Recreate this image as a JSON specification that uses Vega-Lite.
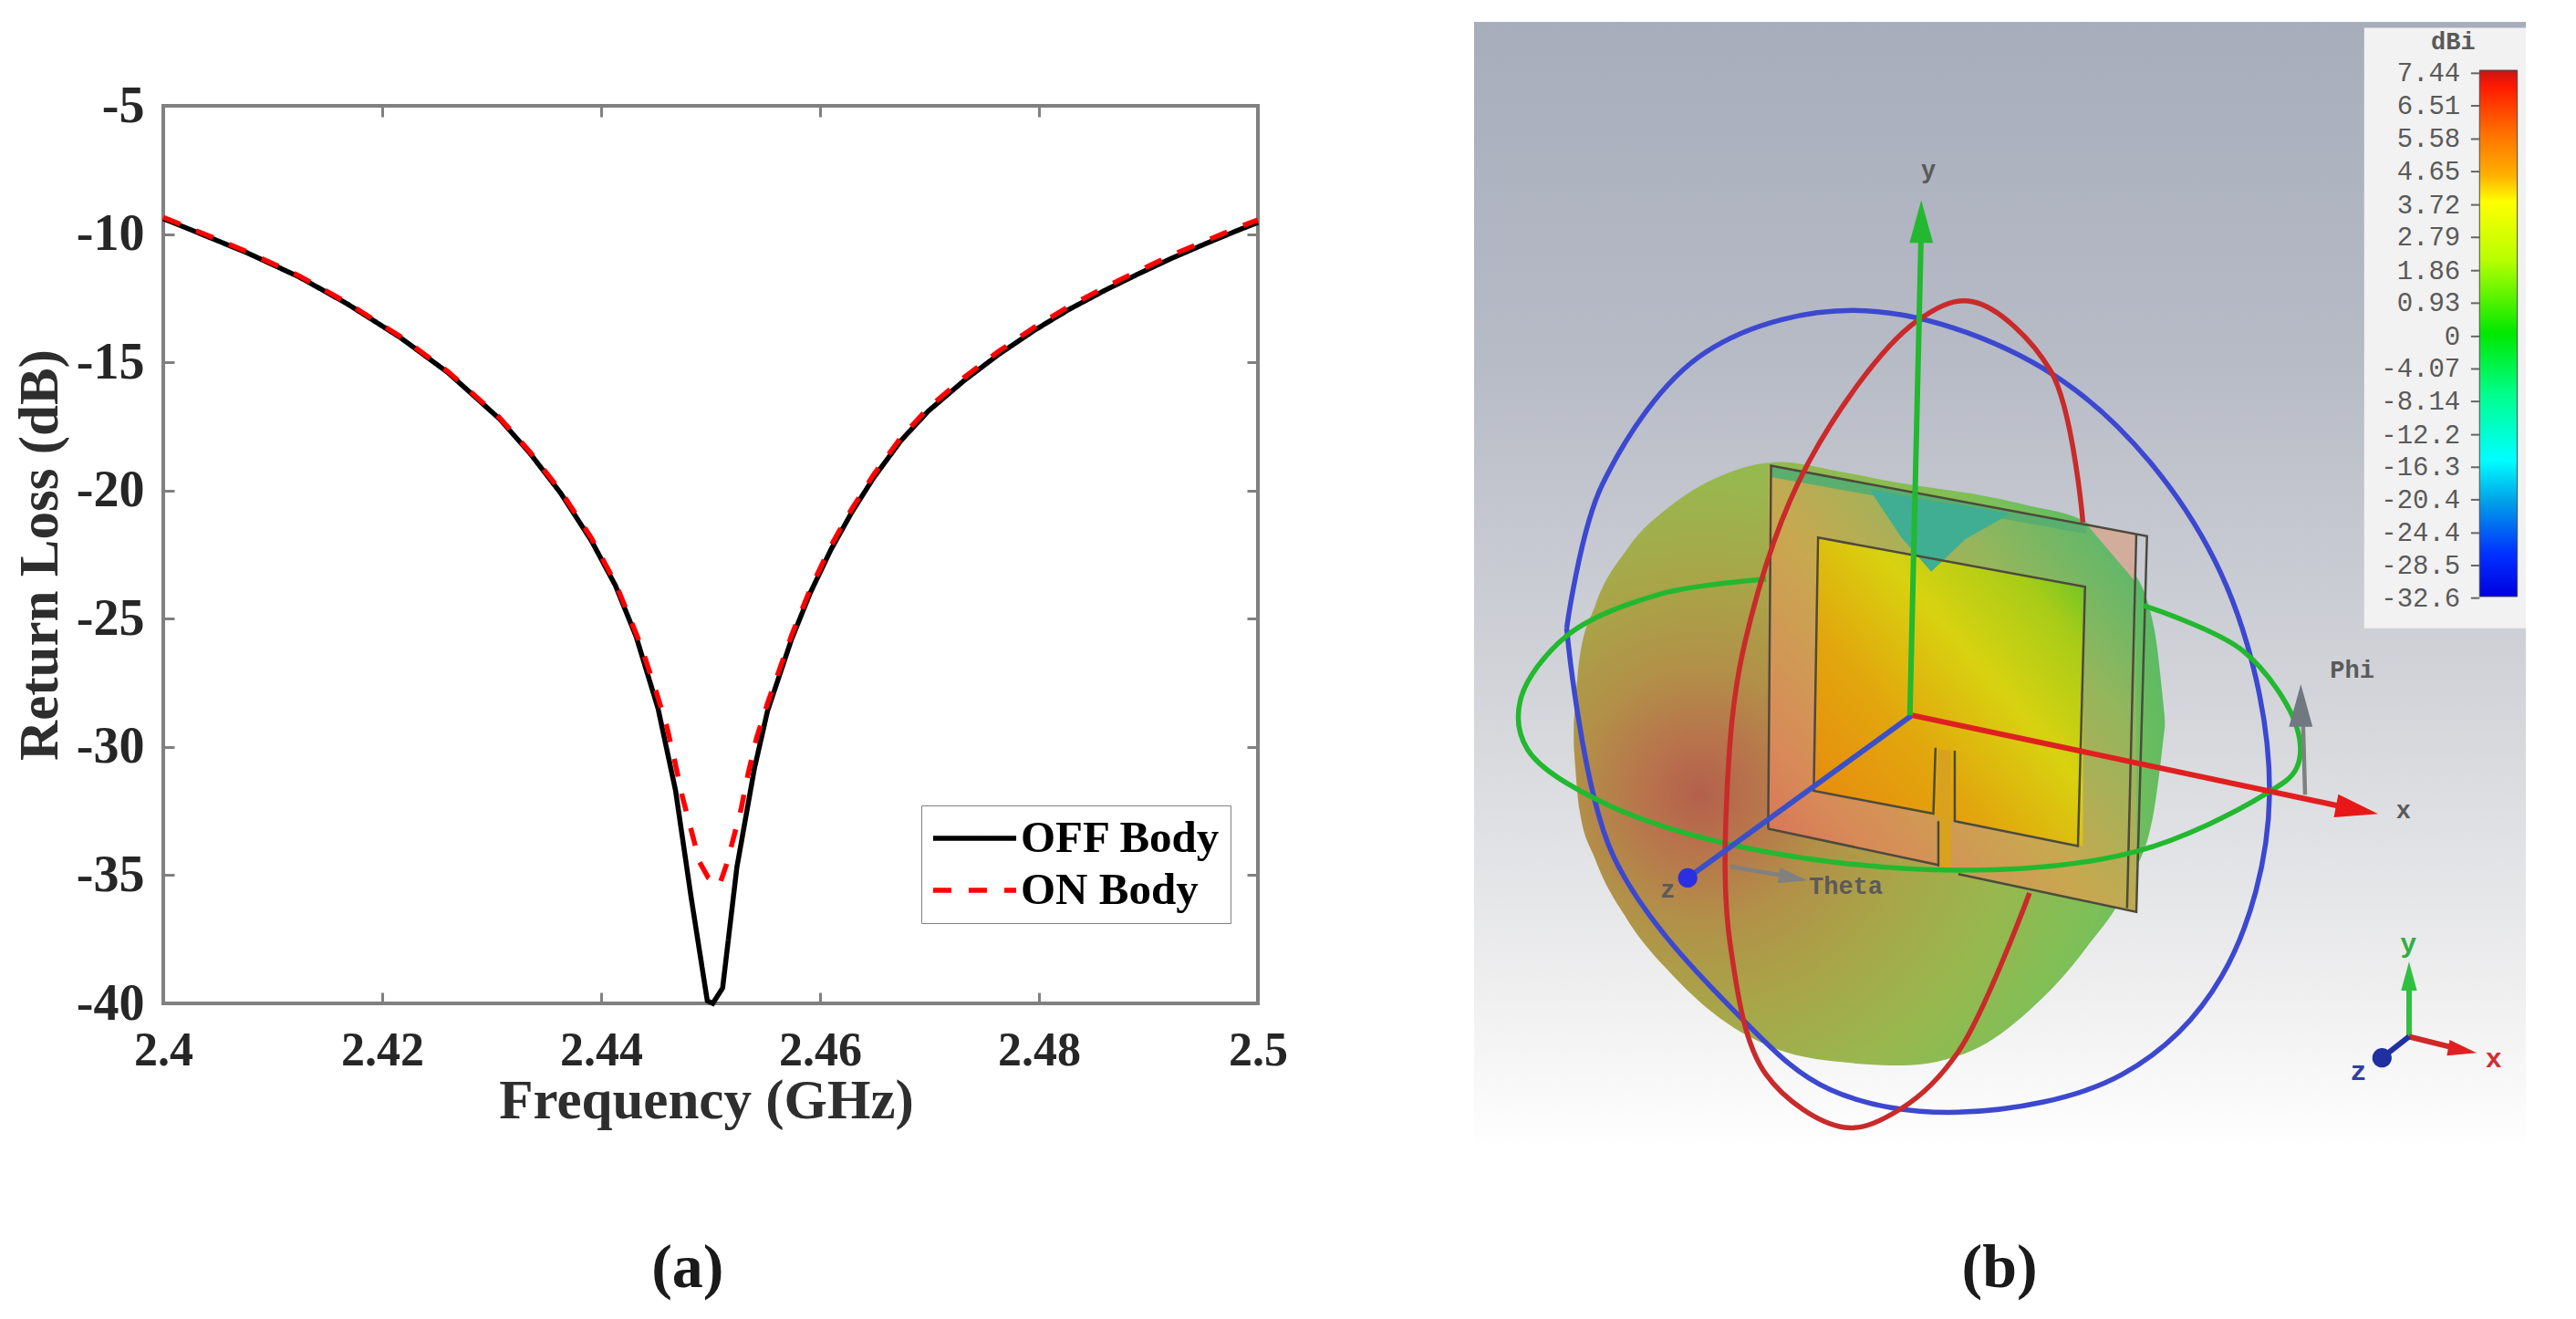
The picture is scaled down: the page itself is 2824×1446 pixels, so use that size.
{
"$schema":"https://vega.github.io/schema/vega-lite/v6.json",
"background":"white",
"padding":{"left":11,"top":23,"right":0,"bottom":0},
"bounds":"flush",
"spacing":237,
"resolve":{"scale":{"color":"independent","strokeDash":"independent","x":"independent","y":"independent"}},
"config":{"view":{"stroke":"#808080","strokeWidth":4},"text":{"font":"Liberation Serif"}},
"datasets":{
"curves":[
{"f":2.40,"rl":-9.4,"s":"OFF Body"},{"f":2.4029,"rl":-9.9,"s":"OFF Body"},{"f":2.4077,"rl":-10.74,"s":"OFF Body"},{"f":2.4124,"rl":-11.67,"s":"OFF Body"},{"f":2.4168,"rl":-12.72,"s":"OFF Body"},{"f":2.4216,"rl":-14.02,"s":"OFF Body"},{"f":2.426,"rl":-15.4,"s":"OFF Body"},{"f":2.4307,"rl":-17.2,"s":"OFF Body"},{"f":2.4335,"rl":-18.55,"s":"OFF Body"},{"f":2.4363,"rl":-20.1,"s":"OFF Body"},{"f":2.4391,"rl":-21.95,"s":"OFF Body"},{"f":2.4413,"rl":-23.7,"s":"OFF Body"},{"f":2.4432,"rl":-25.7,"s":"OFF Body"},{"f":2.4452,"rl":-28.5,"s":"OFF Body"},{"f":2.4468,"rl":-31.7,"s":"OFF Body"},{"f":2.4482,"rl":-35.8,"s":"OFF Body"},{"f":2.4497,"rl":-39.9,"s":"OFF Body"},{"f":2.4502,"rl":-40,"s":"OFF Body"},{"f":2.4511,"rl":-39.4,"s":"OFF Body"},{"f":2.4524,"rl":-34.7,"s":"OFF Body"},{"f":2.454,"rl":-30.85,"s":"OFF Body"},{"f":2.4552,"rl":-28.6,"s":"OFF Body"},{"f":2.4574,"rl":-25.8,"s":"OFF Body"},{"f":2.4591,"rl":-24.0,"s":"OFF Body"},{"f":2.461,"rl":-22.3,"s":"OFF Body"},{"f":2.4629,"rl":-20.85,"s":"OFF Body"},{"f":2.4649,"rl":-19.5,"s":"OFF Body"},{"f":2.4674,"rl":-18.05,"s":"OFF Body"},{"f":2.4699,"rl":-16.9,"s":"OFF Body"},{"f":2.4732,"rl":-15.7,"s":"OFF Body"},{"f":2.4763,"rl":-14.7,"s":"OFF Body"},{"f":2.4796,"rl":-13.75,"s":"OFF Body"},{"f":2.4827,"rl":-12.95,"s":"OFF Body"},{"f":2.486,"rl":-12.2,"s":"OFF Body"},{"f":2.4891,"rl":-11.55,"s":"OFF Body"},{"f":2.4921,"rl":-10.95,"s":"OFF Body"},{"f":2.4952,"rl":-10.38,"s":"OFF Body"},{"f":2.4982,"rl":-9.85,"s":"OFF Body"},{"f":2.5,"rl":-9.55,"s":"OFF Body"},
{"f":2.40,"rl":-9.35,"s":"ON Body"},{"f":2.4029,"rl":-9.85,"s":"ON Body"},{"f":2.4077,"rl":-10.7,"s":"ON Body"},{"f":2.4124,"rl":-11.63,"s":"ON Body"},{"f":2.4168,"rl":-12.68,"s":"ON Body"},{"f":2.4216,"rl":-13.98,"s":"ON Body"},{"f":2.426,"rl":-15.36,"s":"ON Body"},{"f":2.4307,"rl":-17.15,"s":"ON Body"},{"f":2.4335,"rl":-18.5,"s":"ON Body"},{"f":2.4363,"rl":-20.02,"s":"ON Body"},{"f":2.4391,"rl":-21.85,"s":"ON Body"},{"f":2.4413,"rl":-23.6,"s":"ON Body"},{"f":2.4436,"rl":-26.0,"s":"ON Body"},{"f":2.445,"rl":-27.8,"s":"ON Body"},{"f":2.446,"rl":-29.2,"s":"ON Body"},{"f":2.4467,"rl":-30.5,"s":"ON Body"},{"f":2.4474,"rl":-31.9,"s":"ON Body"},{"f":2.4482,"rl":-33.2,"s":"ON Body"},{"f":2.449,"rl":-34.5,"s":"ON Body"},{"f":2.4498,"rl":-35.1,"s":"ON Body"},{"f":2.4508,"rl":-35.4,"s":"ON Body"},{"f":2.4514,"rl":-34.65,"s":"ON Body"},{"f":2.452,"rl":-33.7,"s":"ON Body"},{"f":2.4528,"rl":-32.4,"s":"ON Body"},{"f":2.4534,"rl":-31.1,"s":"ON Body"},{"f":2.4542,"rl":-29.65,"s":"ON Body"},{"f":2.4552,"rl":-28.3,"s":"ON Body"},{"f":2.4564,"rl":-26.85,"s":"ON Body"},{"f":2.4574,"rl":-25.65,"s":"ON Body"},{"f":2.4591,"rl":-23.85,"s":"ON Body"},{"f":2.461,"rl":-22.15,"s":"ON Body"},{"f":2.4629,"rl":-20.72,"s":"ON Body"},{"f":2.4649,"rl":-19.38,"s":"ON Body"},{"f":2.4674,"rl":-17.93,"s":"ON Body"},{"f":2.4699,"rl":-16.78,"s":"ON Body"},{"f":2.4732,"rl":-15.58,"s":"ON Body"},{"f":2.4763,"rl":-14.58,"s":"ON Body"},{"f":2.4796,"rl":-13.63,"s":"ON Body"},{"f":2.4827,"rl":-12.83,"s":"ON Body"},{"f":2.486,"rl":-12.08,"s":"ON Body"},{"f":2.4891,"rl":-11.43,"s":"ON Body"},{"f":2.4921,"rl":-10.83,"s":"ON Body"},{"f":2.4952,"rl":-10.27,"s":"ON Body"},{"f":2.4982,"rl":-9.74,"s":"ON Body"},{"f":2.5,"rl":-9.45,"s":"ON Body"}
],
"lobe":[{"x":160,"t":955,"b":985},{"x":168,"t":870,"b":1070},{"x":190,"t":800,"b":1135},{"x":235,"t":725,"b":1215},{"x":300,"t":665,"b":1290},{"x":375,"t":625,"b":1352},{"x":450,"t":610,"b":1388},{"x":530,"t":622,"b":1403},{"x":620,"t":638,"b":1408},{"x":720,"t":652,"b":1388},{"x":800,"t":668,"b":1335},{"x":880,"t":690,"b":1252},{"x":940,"t":745,"b":1165},{"x":975,"t":830,"b":1070},{"x":990,"t":950,"b":960}],
"board":[{"x":433,"t":615,"b":1095},{"x":950,"t":705,"b":1205}],
"corner":[{"x":880,"t":692,"b":692},{"x":950,"t":705,"b":770}],
"strip":[{"x":437,"t":615,"b":630},{"x":880,"t":693,"b":705}],
"patch":[{"x":500,"t":710,"b":1046},{"x":875,"t":775,"b":1118}],
"feed":[{"x":672,"t":990,"b":1145},{"x":690,"t":992,"b":1148}],
"notch":[{"x":575,"t":646,"b":646},{"x":620,"t":654,"b":710},{"x":662,"t":662,"b":755},{"x":710,"t":668,"b":712},{"x":770,"t":678,"b":680}],
"rings":[
{"s":"blue","i":0,"x":150,"y":830},{"s":"blue","i":1,"x":200,"y":640},{"s":"blue","i":2,"x":345,"y":465},{"s":"blue","i":3,"x":570,"y":410},{"s":"blue","i":4,"x":850,"y":505},{"s":"blue","i":5,"x":1060,"y":740},{"s":"blue","i":6,"x":1137,"y":1050},{"s":"blue","i":7,"x":1070,"y":1290},{"s":"blue","i":8,"x":930,"y":1420},{"s":"blue","i":9,"x":700,"y":1470},{"s":"blue","i":10,"x":520,"y":1440},{"s":"blue","i":11,"x":400,"y":1350},{"s":"blue","i":12,"x":215,"y":1130},{"s":"blue","i":13,"x":150,"y":830},
{"s":"green","i":0,"x":960,"y":800},{"s":"green","i":1,"x":1100,"y":860},{"s":"green","i":2,"x":1175,"y":960},{"s":"green","i":3,"x":1175,"y":1015},{"s":"green","i":4,"x":1130,"y":1050},{"s":"green","i":5,"x":950,"y":1125},{"s":"green","i":6,"x":700,"y":1150},{"s":"green","i":7,"x":400,"y":1120},{"s":"green","i":8,"x":200,"y":1060},{"s":"green","i":9,"x":95,"y":990},{"s":"green","i":10,"x":85,"y":925},{"s":"green","i":11,"x":150,"y":840},{"s":"green","i":12,"x":280,"y":785},{"s":"green","i":13,"x":430,"y":765},
{"s":"red","i":0,"x":875,"y":690},{"s":"red","i":1,"x":830,"y":490},{"s":"red","i":2,"x":720,"y":398},{"s":"red","i":3,"x":640,"y":425},{"s":"red","i":4,"x":490,"y":610},{"s":"red","i":5,"x":400,"y":850},{"s":"red","i":6,"x":375,"y":1050},{"s":"red","i":7,"x":380,"y":1250},{"s":"red","i":8,"x":430,"y":1420},{"s":"red","i":9,"x":540,"y":1490},{"s":"red","i":10,"x":620,"y":1465},{"s":"red","i":11,"x":700,"y":1390},{"s":"red","i":12,"x":800,"y":1180}
],
"outlines":[
{"s":"edge1","i":0,"x":433,"y":1095},{"s":"edge1","i":1,"x":437,"y":615},{"s":"edge1","i":2,"x":965,"y":708},{"s":"edge1","i":3,"x":950,"y":1205},{"s":"edge1","i":4,"x":700,"y":1155},
{"s":"edge2","i":0,"x":950,"y":705},{"s":"edge2","i":1,"x":937,"y":1200},
{"s":"edge3","i":0,"x":433,"y":1095},{"s":"edge3","i":1,"x":672,"y":1143},
{"s":"patch","i":0,"x":668,"y":988},{"s":"patch","i":1,"x":665,"y":1075},{"s":"patch","i":2,"x":497,"y":1045},{"s":"patch","i":3,"x":503,"y":710},{"s":"patch","i":4,"x":878,"y":775},{"s":"patch","i":5,"x":868,"y":1118},{"s":"patch","i":6,"x":695,"y":1085},{"s":"patch","i":7,"x":695,"y":992},
{"s":"feedL","i":0,"x":672,"y":1085},{"s":"feedL","i":1,"x":672,"y":1145}
],
"thinArrows":[
{"s":"theta","i":0,"x":380,"y":1145},{"s":"theta","i":1,"x":460,"y":1158},
{"s":"phi","i":0,"x":1187,"y":1050},{"s":"phi","i":1,"x":1184,"y":950}
],
"arrows":[
{"s":"axisZ","i":0,"x":635,"y":945},{"s":"axisZ","i":1,"x":320,"y":1160},
{"s":"axisX","i":0,"x":635,"y":945},{"s":"axisX","i":1,"x":1240,"y":1066},
{"s":"axisY","i":0,"x":632,"y":945},{"s":"axisY","i":1,"x":648,"y":300},
{"s":"smallY","i":0,"x":1333,"y":1370},{"s":"smallY","i":1,"x":1333,"y":1295},
{"s":"smallX","i":0,"x":1333,"y":1370},{"s":"smallX","i":1,"x":1410,"y":1388},
{"s":"smallZ","i":0,"x":1333,"y":1370},{"s":"smallZ","i":1,"x":1295,"y":1398}
],
"headsUp":[{"a":"y","x":648,"y":292},{"a":"phi","x":1181,"y":932}],
"headsRight":[{"a":"x","x":1260,"y":1070}],
"smallUp":[{"a":"smallY","x":1333,"y":1290}],
"smallRight":[{"a":"theta","x":468,"y":1160},{"a":"smallX","x":1408,"y":1388}],
"balls":[{"b":"z","x":320,"y":1160},{"b":"smallZ","x":1295,"y":1398}],
"bg":[{"x":20,"x2":1497,"y":28,"y2":1520}],
"panel":[{"x":1270,"x2":1497,"y":36,"y2":830}],
"bar":[{"x":1432,"x2":1485,"y":92,"y2":788}],
"ticks":[{"v":"7.44","y":96},{"v":"6.51","y":139},{"v":"5.58","y":183},{"v":"4.65","y":226},{"v":"3.72","y":270},{"v":"2.79","y":313},{"v":"1.86","y":357},{"v":"0.93","y":400},{"v":"0","y":444},{"v":"-4.07","y":487},{"v":"-8.14","y":530},{"v":"-12.2","y":574},{"v":"-16.3","y":617},{"v":"-20.4","y":660},{"v":"-24.4","y":704},{"v":"-28.5","y":747},{"v":"-32.6","y":790}],
"labels":[{"t":"y","x":658,"y":225},{"t":"x","x":1325,"y":1072},{"t":"z","x":292,"y":1176},{"t":"Theta","x":542,"y":1172},{"t":"Phi","x":1253,"y":886},{"t":"dBi","x":1395,"y":54}],
"small":[{"t":"y","x":1332,"y":1248},{"t":"x","x":1452,"y":1400},{"t":"z","x":1262,"y":1416}]
},
"hconcat":[
{
"width":1200,"height":984,
"layer":[
{"data":{"name":"curves"},
"mark":{"type":"line","strokeWidth":5.5,"clip":false},
"encoding":{
"x":{"field":"f","type":"quantitative","scale":{"domain":[2.4,2.5],"nice":false,"zero":false},
"axis":{"values":[2.4,2.42,2.44,2.46,2.48,2.5],"labelExpr":"'' + datum.value","grid":false,"domain":false,"tickSize":-12,"tickWidth":3,"tickColor":"#808080","labelFont":"Liberation Serif","labelFontWeight":"bold","labelFontSize":52,"labelColor":"#262626","labelPadding":38,"labelFlush":false,"title":"Frequency (GHz)","titleX":595,"titleFont":"Liberation Serif","titleFontWeight":"bold","titleFontSize":61,"titleColor":"#2e2e2e","titlePadding":0}},
"y":{"field":"rl","type":"quantitative","scale":{"domain":[-40,-5],"nice":false,"zero":false},
"axis":{"values":[-5,-10,-15,-20,-25,-30,-35,-40],"labelExpr":"'' + datum.value","grid":false,"domain":false,"tickSize":-12,"tickWidth":3,"tickColor":"#808080","labelFont":"Liberation Serif","labelFontWeight":"bold","labelFontSize":56,"labelColor":"#262626","labelPadding":33,"labelFlush":false,"title":"Return Loss (dB)","titleFont":"Liberation Serif","titleFontWeight":"bold","titleFontSize":61,"titleColor":"#2e2e2e","titlePadding":8}},
"color":{"field":"s","type":"nominal","scale":{"domain":["OFF Body","ON Body"],"range":["#000000","#ff0000"]},
"legend":{"orient":"none","legendX":831,"legendY":767,"title":null,"fillColor":"#ffffff","strokeColor":"#808080","symbolType":"stroke","symbolSize":8300,"symbolStrokeWidth":5.5,"clipHeight":52,"rowPadding":5,"padding":10,"labelFont":"Liberation Serif","labelFontWeight":"bold","labelFontSize":49,"labelColor":"#000000","labelOffset":2,"labelLimit":400,"columnPadding":0}},
"strokeDash":{"field":"s","type":"nominal","scale":{"domain":["OFF Body","ON Body"],"range":[[1,0],[20,19]]}}
}},
{"data":{"name":"curves"},
"mark":{"type":"line","opacity":0},
"encoding":{
"x":{"field":"f","type":"quantitative","axis":{"orient":"top","values":[2.4,2.42,2.44,2.46,2.48,2.5],"labels":false,"grid":false,"domain":false,"tickSize":-12,"tickWidth":3,"tickColor":"#808080","title":null}},
"y":{"field":"rl","type":"quantitative","axis":{"orient":"right","values":[-5,-10,-15,-20,-25,-30,-35,-40],"labels":false,"grid":false,"domain":false,"tickSize":-12,"tickWidth":3,"tickColor":"#808080","title":null}}
}},
{"data":{"values":[{"f":2.4479,"rl":-50.35,"t":"(a)"}]},
"mark":{"type":"text","font":"Liberation Serif","fontWeight":"bold","fontSize":68,"color":"#1a1a1a"},
"encoding":{"x":{"field":"f","type":"quantitative","axis":null},"y":{"field":"rl","type":"quantitative","axis":null},"text":{"field":"t"}}}
],
"resolve":{"axis":{"x":"independent","y":"independent"}}
},
{
"width":1153,"height":984,
"view":{"stroke":null},
"resolve":{"scale":{"color":"independent"}},
"encoding":{
"x":{"type":"quantitative","scale":{"domain":[20,1497],"nice":false,"zero":false},"axis":null},
"y":{"type":"quantitative","scale":{"domain":[139,1326],"nice":false,"zero":false,"reverse":true},"axis":null}
},
"layer":[
{"data":{"name":"bg"},"mark":{"type":"rect","color":{"gradient":"linear","x1":0,"y1":0,"x2":0,"y2":1,"stops":[{"offset":0,"color":"#a7adbb"},{"offset":0.3,"color":"#b7bbc6"},{"offset":0.6,"color":"#d3d5da"},{"offset":0.85,"color":"#eeeeef"},{"offset":1,"color":"#ffffff"}]}},
"encoding":{"x":{"field":"x"},"x2":{"field":"x2"},"y":{"field":"y"},"y2":{"field":"y2"}}},
{"data":{"name":"lobe"},"mark":{"type":"area","interpolate":"monotone","color":{"gradient":"radial","x1":0.22,"y1":0.55,"r1":0,"x2":0.22,"y2":0.55,"r2":0.95,"stops":[{"offset":0,"color":"#b4604c"},{"offset":0.1,"color":"#b8744c"},{"offset":0.22,"color":"#b29048"},{"offset":0.38,"color":"#a8a648"},{"offset":0.55,"color":"#98b84e"},{"offset":0.72,"color":"#7cc058"},{"offset":0.88,"color":"#4fb868"},{"offset":1,"color":"#3bb070"}]}},
"encoding":{"x":{"field":"x"},"y":{"field":"t"},"y2":{"field":"b"}}},
{"data":{"name":"board"},"mark":{"type":"area","color":{"gradient":"linear","x1":0,"y1":1,"x2":1,"y2":0,"stops":[{"offset":0,"color":"#d8685a"},{"offset":0.2,"color":"#d88a58"},{"offset":0.45,"color":"#c8a850"},{"offset":0.7,"color":"#94b65c"},{"offset":0.9,"color":"#5ab86c"},{"offset":1,"color":"#4fb070"}]}},
"encoding":{"x":{"field":"x"},"y":{"field":"t"},"y2":{"field":"b"}}},
{"data":{"name":"corner"},"mark":{"type":"area","color":"#d3ad9c"},
"encoding":{"x":{"field":"x"},"y":{"field":"t"},"y2":{"field":"b"}}},
{"data":{"name":"strip"},"mark":{"type":"area","color":"#5aae6e"},
"encoding":{"x":{"field":"x"},"y":{"field":"t"},"y2":{"field":"b"}}},
{"data":{"name":"patch"},"mark":{"type":"area","color":{"gradient":"linear","x1":0,"y1":1,"x2":1,"y2":0,"stops":[{"offset":0,"color":"#e8850f"},{"offset":0.35,"color":"#e2a60d"},{"offset":0.6,"color":"#d8d210"},{"offset":0.82,"color":"#a8cc18"},{"offset":1,"color":"#4fc030"}]}},
"encoding":{"x":{"field":"x"},"y":{"field":"t"},"y2":{"field":"b"}}},
{"data":{"name":"feed"},"mark":{"type":"area","color":"#d9a21e"},
"encoding":{"x":{"field":"x"},"y":{"field":"t"},"y2":{"field":"b"}}},
{"data":{"name":"notch"},"mark":{"type":"area","color":"#3fae92"},
"encoding":{"x":{"field":"x"},"y":{"field":"t"},"y2":{"field":"b"}}},
{"data":{"name":"panel"},"mark":{"type":"rect","color":"#f2f2f2"},
"encoding":{"x":{"field":"x"},"x2":{"field":"x2"},"y":{"field":"y"},"y2":{"field":"y2"}}},
{"data":{"name":"bar"},"mark":{"type":"rect","stroke":"#4a4a4a","strokeWidth":1,"color":{"gradient":"linear","x1":0,"y1":0,"x2":0,"y2":1,"stops":[{"offset":0,"color":"#c81414"},{"offset":0.03,"color":"#ff1a00"},{"offset":0.12,"color":"#ff7000"},{"offset":0.2,"color":"#ffb000"},{"offset":0.25,"color":"#ffff00"},{"offset":0.36,"color":"#b8ff00"},{"offset":0.5,"color":"#00e800"},{"offset":0.62,"color":"#00ff90"},{"offset":0.74,"color":"#00ffff"},{"offset":0.82,"color":"#00a0e8"},{"offset":0.92,"color":"#0030ff"},{"offset":1,"color":"#0000e0"}]}},
"encoding":{"x":{"field":"x"},"x2":{"field":"x2"},"y":{"field":"y"},"y2":{"field":"y2"}}},
{"data":{"name":"ticks"},"mark":{"type":"rule","color":"#666666","strokeWidth":2},
"encoding":{"x":{"datum":1420},"x2":{"datum":1432},"y":{"field":"y"}}},
{"data":{"name":"ticks"},"mark":{"type":"text","font":"Liberation Mono","fontSize":29,"align":"right","color":"#5a5a5a","dx":4},
"encoding":{"x":{"datum":1400},"y":{"field":"y"},"text":{"field":"v"}}},
{"data":{"name":"outlines"},"mark":{"type":"line","strokeWidth":2.5,"color":"#4d4a3c"},
"encoding":{"x":{"field":"x"},"y":{"field":"y"},"order":{"field":"i"},"detail":{"field":"s"}}},
{"data":{"name":"rings"},"mark":{"type":"line","interpolate":"catmull-rom","strokeWidth":5.5},
"encoding":{"x":{"field":"x"},"y":{"field":"y"},"order":{"field":"i"},"detail":{"field":"s"},
"color":{"field":"s","type":"nominal","legend":null,"scale":{"domain":["blue","green","red"],"range":["#3c48d0","#22b830","#c92a2a"]}}}},
{"data":{"name":"thinArrows"},"mark":{"type":"line","strokeWidth":4.5,"color":"#808080"},
"encoding":{"x":{"field":"x"},"y":{"field":"y"},"order":{"field":"i"},"detail":{"field":"s"}}},
{"data":{"name":"arrows"},"mark":{"type":"line","strokeWidth":6},
"encoding":{"x":{"field":"x"},"y":{"field":"y"},"order":{"field":"i"},"detail":{"field":"s"},
"color":{"field":"s","type":"nominal","legend":null,"scale":{"domain":["axisZ","axisX","axisY","smallY","smallX","smallZ"],"range":["#3a50c8","#e02020","#22b830","#30c040","#d02828","#2030a0"]}}}},
{"data":{"name":"headsUp"},"mark":{"type":"point","filled":true,"opacity":1,"size":2200,"angle":0,"shape":"M0,-1L0.55,1L-0.55,1Z"},
"encoding":{"x":{"field":"x"},"y":{"field":"y"},
"color":{"field":"a","type":"nominal","legend":null,"scale":{"domain":["y","phi"],"range":["#22b830","#707880"]}}}},
{"data":{"name":"headsRight"},"mark":{"type":"point","filled":true,"opacity":1,"size":2200,"angle":101,"color":"#e81818","shape":"M0,-1L0.55,1L-0.55,1Z"},
"encoding":{"x":{"field":"x"},"y":{"field":"y"}}},
{"data":{"name":"smallUp"},"mark":{"type":"point","filled":true,"opacity":1,"size":1000,"angle":0,"color":"#30c040","shape":"M0,-1L0.55,1L-0.55,1Z"},
"encoding":{"x":{"field":"x"},"y":{"field":"y"}}},
{"data":{"name":"smallRight"},"mark":{"type":"point","filled":true,"opacity":1,"size":1000,"angle":100,"shape":"M0,-1L0.55,1L-0.55,1Z"},
"encoding":{"x":{"field":"x"},"y":{"field":"y"},
"color":{"field":"a","type":"nominal","legend":null,"scale":{"domain":["theta","smallX"],"range":["#808080","#e02020"]}}}},
{"data":{"name":"balls"},"mark":{"type":"circle","opacity":1,"size":450},
"encoding":{"x":{"field":"x"},"y":{"field":"y"},
"color":{"field":"b","type":"nominal","legend":null,"scale":{"domain":["z","smallZ"],"range":["#2a30e0","#2030a0"]}}}},
{"data":{"name":"labels"},"mark":{"type":"text","font":"Liberation Mono","fontSize":27,"fontWeight":"bold","color":"#5a5a5a"},
"encoding":{"x":{"field":"x"},"y":{"field":"y"},"text":{"field":"t"}}},
{"data":{"name":"small"},"mark":{"type":"text","font":"Liberation Mono","fontSize":30,"fontWeight":"bold"},
"encoding":{"x":{"field":"x"},"y":{"field":"y"},"text":{"field":"t"},
"color":{"field":"t","type":"nominal","legend":null,"scale":{"domain":["y","x","z"],"range":["#30b040","#d03030","#3040a0"]}}}},
{"data":{"values":[{"x":758,"y":1677,"t":"(b)"}]},"mark":{"type":"text","font":"Liberation Serif","fontWeight":"bold","fontSize":68,"color":"#1a1a1a"},
"encoding":{"x":{"field":"x"},"y":{"field":"y"},"text":{"field":"t"}}}
]
}
]
}
